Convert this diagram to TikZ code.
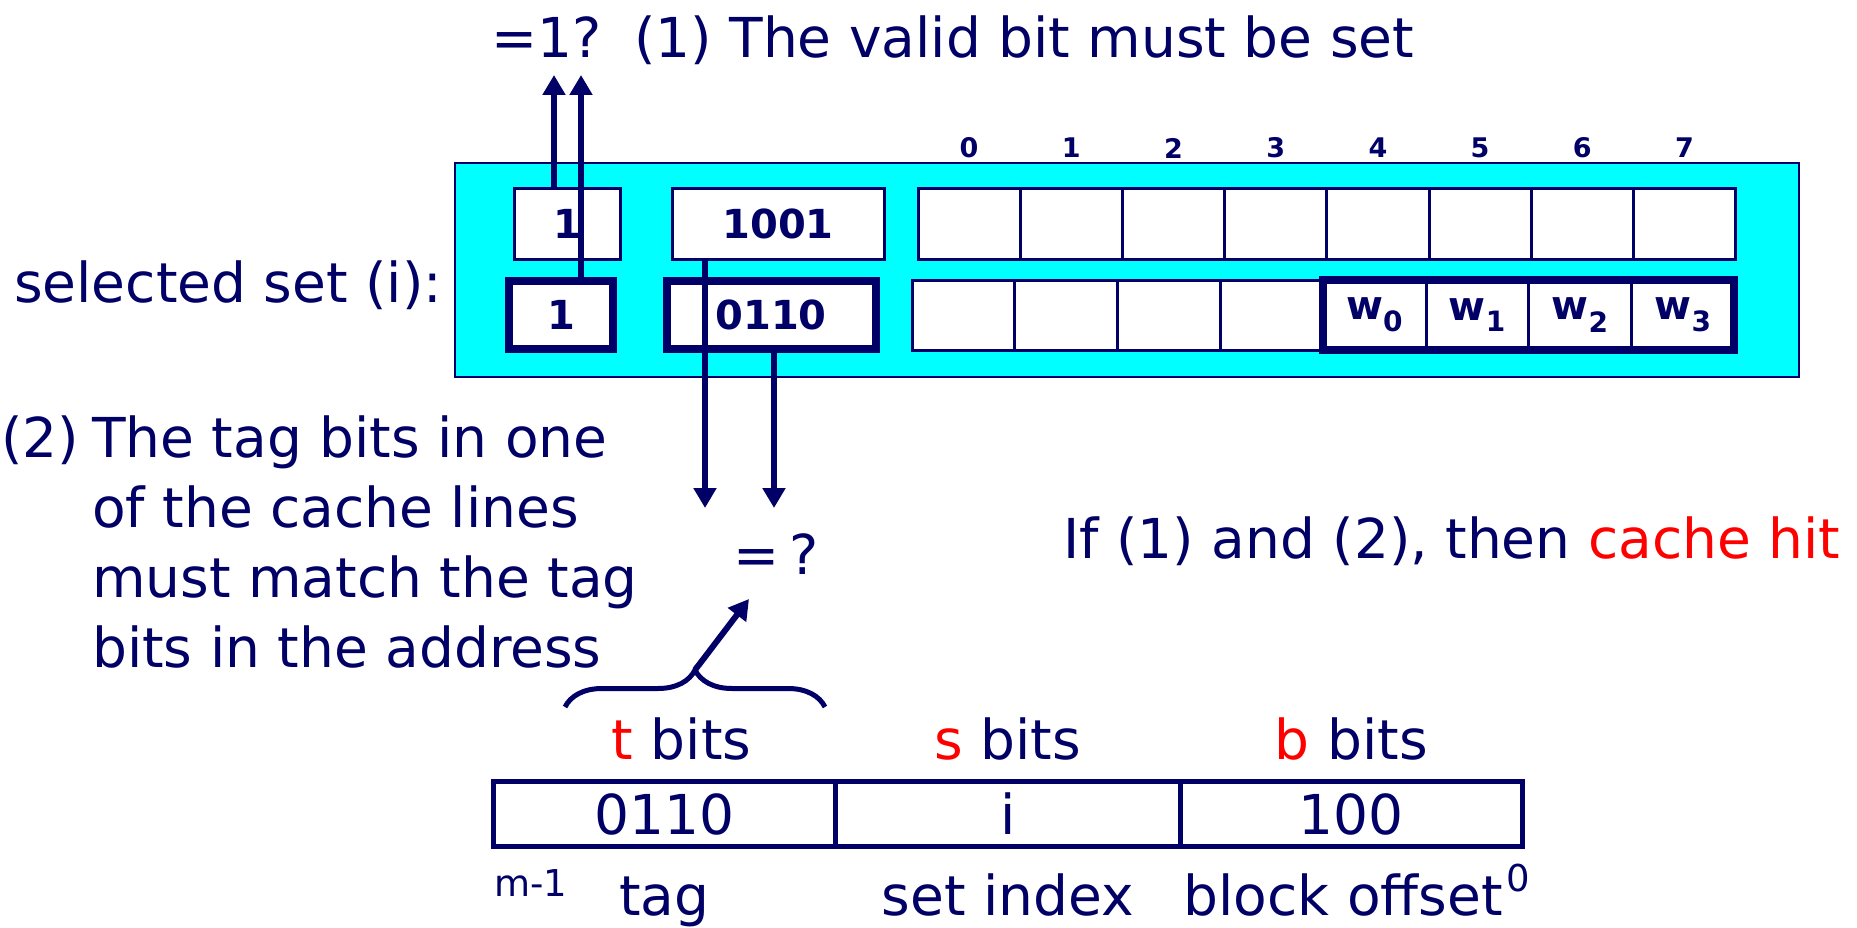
\documentclass[tikz,border=0pt]{standalone}
\usepackage{fontspec}
\setmainfont{DejaVu Sans}
\usetikzlibrary{positioning,arrows.meta,decorations.pathreplacing}
\definecolor{navy}{HTML}{000066}
\definecolor{setcyan}{HTML}{00FFFF}
\definecolor{hitred}{HTML}{FF0000}
\tikzset{
	txt/.style={text=navy, inner sep=0pt, font=\fontsize{55}{66}\selectfont},
	smalltxt/.style={text=navy, inner sep=0pt, font=\fontsize{37}{44}\selectfont},
	bitbox/.style={draw=navy, line width=3pt, fill=white, minimum height=70pt, inner sep=0pt, outer sep=0pt, text=navy, font=\bfseries\fontsize{40}{48}\selectfont},
	thickbox/.style={bitbox, line width=8pt, minimum height=68pt},
	cell/.style={draw=navy, line width=3pt, fill=white, minimum height=70pt, inner sep=0pt, outer sep=0pt},
	collab/.style={text=navy, inner sep=0pt, font=\bfseries\fontsize{27}{32}\selectfont},
	wlab/.style={text=navy, inner sep=0pt, font=\bfseries\fontsize{40}{48}\selectfont},
	field/.style={txt, draw=navy, line width=5pt, minimum height=65pt, outer sep=0pt},
	arr/.style={navy, line width=6pt, -{Triangle[width=22pt,length=20pt]}},
}

\begin{document}
\begin{tikzpicture}[x=1pt, y=-1pt]
			%%%%% START %%%%%
			\useasboundingbox (0,0) rectangle (1857,928);
			
			\node[draw=navy, line width=2.5pt, fill=setcyan, minimum width=1344pt, minimum height=214pt] (cset) at (1127,270) {};
			
			% first line of the set
			\node[bitbox, minimum width=106pt] (v1) at (567,224) {1};
			\node[bitbox, minimum width=212pt] (t1) at (778,224) {1001};
			\foreach \i in {0,...,7}
				\node[cell, minimum width=102.2pt] (a\i) at (969.1+102.2*\i,224) {};
			\foreach \i in {0,...,7}
				\node[collab, above=41pt of a\i.north, anchor=center] (n\i) {\i};
			
			% second line of the set
			\node[thickbox, minimum width=104pt] (v2) at (561,315) {1};
			\node[thickbox, minimum width=209pt] (t2) at (771,315) {0110};
			\foreach \i in {0,...,7}
				\node[cell, minimum width=102.8pt] (b\i) at (963.4+102.8*\i,315) {};
			\foreach \w [count=\i from 4] in {0,...,3}
				\node[wlab] (w\w) at (b\i) {w\textsubscript{\w}};
			\draw[navy, line width=8pt] (b4.north west) rectangle (b7.south east);
			
			\node[txt, anchor=base west] (sel) at (14,302) {selected set (i):};
			
			% valid bits up
			\node[txt, anchor=base east] (q1) at (602,58) {=1?};
			\node[txt, anchor=base west] (h1) at (634,58) {(1) The valid bit must be set};
			\coordinate (ua) at (554,75);
			\coordinate (ub) at (581,75);
			\draw[arr] ([xshift=-13pt]v1.north) -- (ua);
			\draw[arr] ([xshift=20pt]v2.north) -- (ub);
			
			% tags down
			\node[txt, anchor=base] (eq) at (776,574) {=\,?};
			\coordinate (da) at (705,508);
			\coordinate (db) at (774,508);
			\draw[arr] ([xshift=-73pt]t1.south) -- (da);
			\draw[arr] ([xshift=3pt]t2.south) -- (db);
			
			\node[txt, anchor=base west] (n2) at (1,457) {(2)};
			\foreach \txtline [count=\k] in {The tag bits in one, of the cache lines, must match the tag, bits in the address}
				\node[txt, anchor=base west] (p\k) at (92,386.7+70.3*\k) {\txtline};
			
			\node[txt, anchor=base west] (hit) at (1063,558) {If (1) and (2), then \textcolor{hitred}{cache hit}};
			
			% address
			\node[field, minimum width=342pt] (ftag) at (664.5,814) {0110};
			\node[field, minimum width=344.5pt, right=0pt of ftag] (fset) {i};
			\node[field, minimum width=342.5pt, right=0pt of fset] (foff) {100};
			
			\coordinate (lt) at (0,759);
			\coordinate (lb) at (0,915);
			\node[txt, anchor=base, xshift=17pt] (bt) at (ftag |- lt) {\textcolor{hitred}{t} bits};
			\node[txt, anchor=base] (bs) at (fset |- lt) {\textcolor{hitred}{s} bits};
			\node[txt, anchor=base] (bb) at (foff |- lt) {\textcolor{hitred}{b} bits};
			\node[txt, anchor=base] (ltag) at (ftag |- lb) {tag};
			\node[txt, anchor=base] (lset) at (fset |- lb) {set index};
			\node[txt, anchor=base, xshift=-8pt] (loff) at (foff |- lb) {block offset};
			\node[smalltxt, anchor=base west] (mtop) at (494,896) {m-1};
			\node[smalltxt, anchor=base west, xshift=3pt, yshift=24pt] (zero) at (loff.base east) {0};
			
			% brace over the tag bits
			\coordinate (bl) at (565,707);
			\coordinate (br) at (825,707);
			\coordinate (brtip) at (695,670);
			\coordinate (eqin) at (749,599);
			\draw[navy, line width=5pt, decorate, decoration={brace, amplitude=37pt}] (bl) -- (br);
			\draw[arr] (brtip) -- (eqin);
			
			%%%%% END %%%%%
\end{tikzpicture}
\end{document}
